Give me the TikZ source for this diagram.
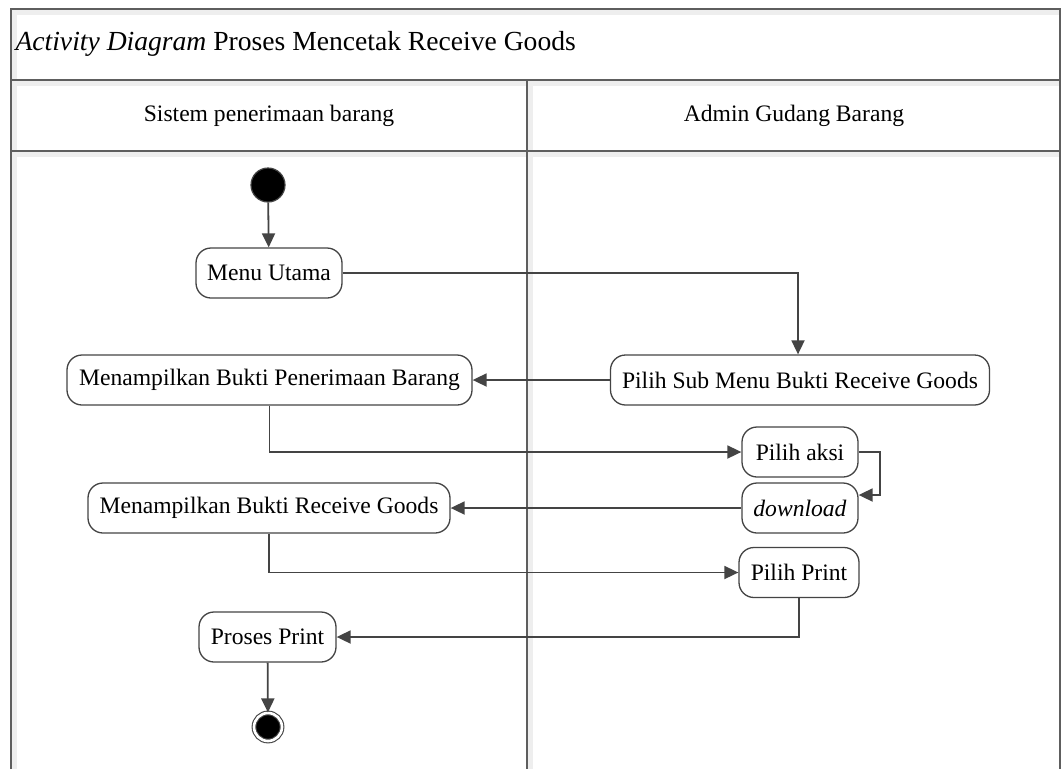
\documentclass[tikz,border=0pt]{standalone}
\usepackage{fontspec}
\setmainfont{Liberation Serif}
\usetikzlibrary{arrows.meta}
\definecolor{framecol}{HTML}{5E5E5E}
\definecolor{linecol}{HTML}{444444}
\definecolor{shadecol}{HTML}{EEEEEE}
\tikzset{
  act/.style={draw=linecol, line width=1.3pt, rounded corners=15pt, fill=white,
    minimum height=50pt, inner sep=0pt, align=center,
    font=\fontsize{23.6}{28}\selectfont},
  startnode/.style={circle, draw=linecol, line width=1.2pt, fill=black,
    minimum size=34pt, inner sep=0pt},
  endnode/.style={circle, draw=linecol, line width=1.1pt, fill=black,
    double=white, double distance=2.6pt, minimum size=28pt, inner sep=0pt},
  flow/.style={draw=linecol, line width=1.8pt,
    -{Triangle[length=14pt,width=13pt]}},
  frameline/.style={draw=framecol, line width=1.8pt},
  shade/.style={fill=shadecol, draw=none},
  lanetitle/.style={font=\fontsize{23.6}{28}\selectfont},
}
\begin{document}
\begin{tikzpicture}[x=1pt, y=-1pt]
  \useasboundingbox (0,0) rectangle (1061,769);
  \fill[white] (0,0) rectangle (1061,769);

  % soft bands beside the frame lines
  \path[shade] (12,10) rectangle (17,769);
  \path[shade] (528,81) rectangle (533,769);
  \path[shade] (12,10) rectangle (1059,15);
  \path[shade] (12,81) rectangle (1059,86);
  \path[shade] (12,152) rectangle (1059,157);

  % pool frame and lanes
  \draw[frameline] (11,769) -- (11,9) -- (1060,9) -- (1060,769);
  \draw[frameline] (11,80) -- (1060,80);
  \draw[frameline] (11,151) -- (1060,151);
  \draw[frameline] (527,80) -- (527,769);

  \node[anchor=west, font=\fontsize{27.6}{32}\selectfont] (title) at (12,44)
    {\textit{Activity Diagram} Proses Mencetak Receive Goods};
  \node[lanetitle] (lane1) at (269,116) {Sistem penerimaan barang};
  \node[lanetitle] (lane2) at (794,116) {Admin Gudang Barang};

  % activities
  \node[startnode] (start) at (268,185) {};
  \node[act, minimum width=146pt] (menu) at (269,273) {Menu Utama};
  \node[act, minimum width=379pt] (pilihsub) at (800,380) {Pilih Sub Menu Bukti Receive Goods};
  \node[act, minimum width=405pt] (tampil1) at (269.5,380) {Menampilkan Bukti Penerimaan Barang};
  \node[act, minimum width=116pt] (aksi) at (800,452) {Pilih aksi};
  \node[act, minimum width=116pt] (download) at (800,508) {\textit{download}};
  \node[act, minimum width=362pt] (tampil2) at (269,508) {Menampilkan Bukti Receive Goods};
  \node[act, minimum width=120pt] (print) at (799,572.5) {Pilih Print};
  \node[act, minimum width=137pt] (proses) at (267.5,637) {Proses Print};
  \node[endnode] (end) at (268,727) {};

  % control flow
  \draw[flow] (start) -- (menu);
  \draw[flow] (menu.east) -| ([xshift=-2pt]pilihsub.north);
  \draw[flow] (pilihsub) -- (tampil1);
  \draw[flow] (tampil1.south) |- (aksi.west);
  \draw[flow] (aksi.east) -- ++(21,0) |- ([yshift=13pt]download.east);
  \draw[flow] (download) -- (tampil2);
  \draw[flow] (tampil2.south) |- (print.west);
  \draw[flow] (print.south) |- (proses.east);
  \draw[flow] (proses) -- (end);
\end{tikzpicture}
\end{document}
